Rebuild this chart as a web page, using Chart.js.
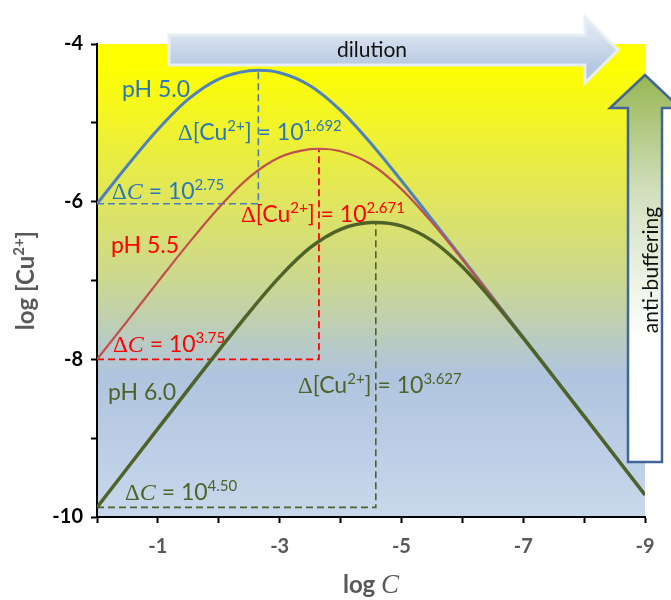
<!DOCTYPE html>
<html>
<head>
<meta charset="utf-8">
<script src="https://cdn.jsdelivr.net/npm/chart.js@4"></script>
<style>
  html, body { margin: 0; padding: 0; background: #fff; }
</style>
</head>
<body>
<canvas id="chart" width="671" height="600"></canvas>
<script>
// log C (x) and log [Cu2+] (y) along each curve
const logC_pH50 = [0, -0.5, -1, -1.5, -2, -2.5, -2.65, -3, -3.5, -4, -4.5, -5, -5.5, -6, -6.5, -7, -7.5, -8, -8.5, -9];
const logCu_pH50 = [-6.027, -5.542, -5.085, -4.700, -4.445, -4.339, -4.334, -4.365, -4.529, -4.842, -5.262, -5.734, -6.224, -6.721, -7.220, -7.720, -8.220, -8.720, -9.220, -9.720];

const logC_pH55 = [0, -0.5, -1, -1.5, -2, -2.5, -3, -3.5, -3.645, -4, -4.5, -5, -5.5, -6, -6.5, -7, -7.5, -8, -8.5, -9];
const logCu_pH55 = [-8.0, -7.512, -7.017, -6.532, -6.076, -5.692, -5.438, -5.334, -5.329, -5.361, -5.526, -5.841, -6.262, -6.734, -7.224, -7.721, -8.220, -8.720, -9.220, -9.720];

const logC_pH60 = [0, -0.5, -1, -1.5, -2, -2.5, -3, -3.5, -4, -4.5, -4.579, -5, -5.5, -6, -6.5, -7, -7.5, -8, -8.5, -9];
const logCu_pH60 = [-9.878, -9.378, -8.879, -8.381, -7.886, -7.403, -6.954, -6.584, -6.350, -6.264, -6.263, -6.308, -6.494, -6.825, -7.256, -7.732, -8.224, -8.721, -9.220, -9.720];

const curveNames = ['pH 5.0', 'pH 5.5', 'pH 6.0'];
const deltaCuExp = ['1.692', '2.671', '3.627'];
const deltaCExp = ['2.75', '3.75', '4.50'];

const xTicks = [-1, -3, -5, -7, -9];
const yTicks = [-4, -6, -8, -10];

const SANS = 'Lato, "Open Sans", sans-serif';
const SERIF = '"Liberation Serif", "DejaVu Serif", serif';
const textColors = ['#2a78b8', '#ff0000', '#4f6228'];

function points(xs, ys) {
  return xs.map((x, i) => ({ x: x, y: ys[i] }));
}

// L-shaped dashed guide: from the curve start across to the peak, then up to it
function guide(xs, ys, color, width) {
  const top = ys.indexOf(Math.max(...ys));
  return {
    data: [{ x: xs[0], y: ys[0] }, { x: xs[top], y: ys[0] }, { x: xs[top], y: ys[top] }],
    borderColor: color,
    borderWidth: width,
    borderDash: [7, 4],
    pointRadius: 0,
    tension: 0,
    fill: false,
  };
}

function curve(xs, ys, color, width) {
  return {
    data: points(xs, ys),
    borderColor: color,
    borderWidth: width,
    pointRadius: 0,
    cubicInterpolationMode: 'monotone',
    fill: false,
  };
}

// draw a row of text pieces with different fonts / superscripts
function drawRuns(ctx, x, y, parts, color) {
  let cx = x;
  ctx.fillStyle = color;
  ctx.textAlign = 'left';
  ctx.textBaseline = 'alphabetic';
  parts.forEach((p) => {
    ctx.font = p.font;
    ctx.fillText(p.text, cx, y - (p.rise || 0));
    cx += ctx.measureText(p.text).width;
  });
  return cx - x;
}

function deltaCuParts(exp) {
  return [
    { text: '\u0394', font: '23px ' + SERIF },
    { text: '[Cu', font: '23px ' + SANS },
    { text: '2+', font: '15px ' + SANS, rise: 9 },
    { text: '] = 10', font: '23px ' + SANS },
    { text: exp, font: '15px ' + SANS, rise: 9 },
  ];
}

function deltaCParts(exp) {
  return [
    { text: '\u0394', font: '23px ' + SERIF },
    { text: 'C', font: 'italic 24px ' + SERIF },
    { text: ' = 10', font: '23px ' + SANS },
    { text: exp, font: '15px ' + SANS, rise: 9 },
  ];
}

const plotBackground = {
  id: 'plotBackground',
  beforeDraw(chart) {
    const { ctx, chartArea: a } = chart;
    ctx.save();
    ctx.fillStyle = '#fff';
    ctx.fillRect(0, 0, chart.width, chart.height);
    const g = ctx.createLinearGradient(0, a.top, 0, a.bottom);
    g.addColorStop(0, '#ffff00');
    g.addColorStop(0.04, '#ffff00');
    g.addColorStop(0.33, '#e0e55e');
    g.addColorStop(0.5, '#cbd890');
    g.addColorStop(0.7, '#afc4de');
    g.addColorStop(1, '#c8d8ec');
    ctx.fillStyle = g;
    ctx.fillRect(a.left, a.top, a.right - a.left, a.bottom - a.top);
    ctx.restore();
  },
};

// curve names and the delta labels, placed in data coordinates
const curveLabels = {
  id: 'curveLabels',
  afterDatasetsDraw(chart) {
    const { ctx, scales: { x, y } } = chart;
    const spots = [
      { name: [-0.41, -4.672], cu: [-1.33, -5.218], c: [-0.246, -5.966] },
      { name: [-0.23, -6.651], cu: [-2.365, -6.258], c: [-0.263, -7.907] },
      { name: [-0.18, -8.516], cu: [-3.30, -8.427], c: [-0.46, -9.785] },
    ];
    ctx.save();
    spots.forEach((s, i) => {
      const col = textColors[i];
      drawRuns(ctx, x.getPixelForValue(s.name[0]), y.getPixelForValue(s.name[1]),
        [{ text: curveNames[i], font: '23px ' + SANS }], col);
      drawRuns(ctx, x.getPixelForValue(s.cu[0]), y.getPixelForValue(s.cu[1]), deltaCuParts(deltaCuExp[i]), col);
      drawRuns(ctx, x.getPixelForValue(s.c[0]), y.getPixelForValue(s.c[1]), deltaCParts(deltaCExp[i]), col);
    });
    ctx.restore();
  },
};

// axis titles plus the two block arrows
const decorations = {
  id: 'decorations',
  afterDraw(chart) {
    const { ctx, chartArea: a } = chart;
    ctx.save();

    // x title: log C
    ctx.fillStyle = '#595959';
    ctx.textBaseline = 'alphabetic';
    ctx.font = 'bold 24px ' + SANS;
    const w1 = ctx.measureText('log ').width;
    ctx.font = 'italic 27px ' + SERIF;
    const w2 = ctx.measureText('C').width;
    const cx = (a.left + a.right) / 2 - (w1 + w2) / 2;
    drawRuns(ctx, cx, 593, [
      { text: 'log ', font: 'bold 24px ' + SANS },
      { text: 'C', font: 'italic 27px ' + SERIF },
    ], '#595959');

    // y title: log [Cu2+]
    const yParts = [
      { text: 'log [Cu', font: 'bold 24px ' + SANS },
      { text: '2+', font: 'bold 15px ' + SANS, rise: 10 },
      { text: ']', font: 'bold 24px ' + SANS },
    ];
    let tw = 0;
    yParts.forEach((p) => { ctx.font = p.font; tw += ctx.measureText(p.text).width; });
    ctx.translate(34, (a.top + a.bottom) / 2);
    ctx.rotate(-Math.PI / 2);
    drawRuns(ctx, -tw / 2, 0, yParts, '#595959');
    ctx.setTransform(1, 0, 0, 1, 0, 0);

    // dilution arrow
    ctx.beginPath();
    ctx.moveTo(169, 35);
    ctx.lineTo(585, 35);
    ctx.lineTo(585, 17);
    ctx.lineTo(618, 50);
    ctx.lineTo(585, 83);
    ctx.lineTo(585, 65);
    ctx.lineTo(169, 65);
    ctx.closePath();
    const gd = ctx.createLinearGradient(0, 17, 0, 83);
    gd.addColorStop(0, '#e3eaf4');
    gd.addColorStop(0.3, '#d7e1ef');
    gd.addColorStop(0.7, '#b9cbe2');
    gd.addColorStop(1, '#aec3df');
    ctx.fillStyle = gd;
    ctx.fill();
    ctx.lineWidth = 3;
    ctx.strokeStyle = '#e8eef6';
    ctx.lineJoin = 'miter';
    ctx.stroke();
    ctx.fillStyle = '#111';
    ctx.font = '21px ' + SANS;
    ctx.textAlign = 'center';
    ctx.fillText('dilution', 372, 57);

    // anti-buffering arrow
    ctx.beginPath();
    ctx.moveTo(645, 75);
    ctx.lineTo(680, 108);
    ctx.lineTo(662, 108);
    ctx.lineTo(662, 462);
    ctx.lineTo(628, 462);
    ctx.lineTo(628, 108);
    ctx.lineTo(610, 108);
    ctx.closePath();
    const ga = ctx.createLinearGradient(0, 75, 0, 340);
    ga.addColorStop(0, '#97b753');
    ga.addColorStop(0.45, '#d3e0bf');
    ga.addColorStop(1, '#ffffff');
    ctx.fillStyle = ga;
    ctx.fill();
    ctx.lineWidth = 2.5;
    ctx.strokeStyle = '#41659a';
    ctx.stroke();
    ctx.translate(658, 270);
    ctx.rotate(-Math.PI / 2);
    ctx.fillStyle = '#111';
    ctx.font = '21px ' + SANS;
    ctx.textAlign = 'center';
    ctx.fillText('anti-buffering', 0, 0);
    ctx.restore();
  },
};

Chart.defaults.font.family = SANS;

new Chart(document.getElementById('chart'), {
  type: 'line',
  data: {
    datasets: [
      curve(logC_pH60, logCu_pH60, '#4f6228', 3.5),
      curve(logC_pH55, logCu_pH55, '#c0504d', 2.2),
      curve(logC_pH50, logCu_pH50, '#4f81bd', 3),
      guide(logC_pH60, logCu_pH60, '#4f6228', 1.6),
      guide(logC_pH55, logCu_pH55, '#ff0000', 1.8),
      guide(logC_pH50, logCu_pH50, '#4a7ebb', 1.6),
    ],
  },
  options: {
    responsive: false,
    animation: false,
    layout: { padding: { left: 0, right: 26, top: 44, bottom: 0 } },
    plugins: { legend: { display: false }, tooltip: { enabled: false } },
    scales: {
      x: {
        type: 'linear',
        reverse: true,
        min: -9,
        max: 0,
        afterFit: (s) => { s.height = 83; },
        ticks: {
          stepSize: 1,
          padding: 12,
          color: '#595959',
          font: { size: 20, weight: 'bold' },
          callback: (v) => (xTicks.includes(v) ? String(v) : ''),
        },
        grid: { drawOnChartArea: false, drawTicks: true, tickLength: 6, tickWidth: 2, tickColor: '#000' },
        border: { color: '#000', width: 2 },
      },
      y: {
        type: 'linear',
        min: -10,
        max: -4,
        afterFit: (s) => { s.width = 97; },
        ticks: {
          stepSize: 1,
          padding: 8,
          color: '#000',
          font: { size: 20, weight: 'bold' },
          callback: (v) => (yTicks.includes(v) ? String(v) : ''),
        },
        grid: { drawOnChartArea: false, drawTicks: true, tickLength: 6, tickWidth: 2, tickColor: '#000' },
        border: { color: '#000', width: 2 },
      },
    },
  },
  plugins: [plotBackground, curveLabels, decorations],
});
</script>
</body>
</html>
